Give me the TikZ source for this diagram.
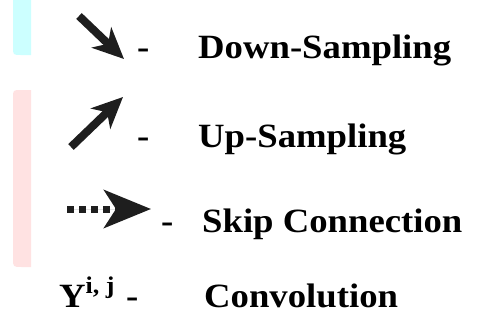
\documentclass[tikz,border=0pt]{standalone}
\usepackage{fontspec}
\setmainfont[FakeStretch=1.08]{Liberation Serif}
\usetikzlibrary{arrows.meta}
\definecolor{stripcyan}{HTML}{CCFFFF}
\definecolor{strippink}{HTML}{FFE2E2}
\definecolor{glyphink}{HTML}{1E1E1E}
\begin{document}
\begin{tikzpicture}[x=1pt,y=-1pt,
  legendtext/.style={font=\fontsize{34}{36}\selectfont\bfseries, inner sep=0pt, anchor=base west, text=black},
  glyph/.style={line width=8pt, draw=glyphink, fill=glyphink},
  bigtip/.style={-{Stealth[length=31pt,width=28pt,inset=9pt]}}]
  \useasboundingbox[fill=white] (0,0) rectangle (480,327);

  % coloured strips on the left edge
  \fill[stripcyan] (31,-2) -- (31,55) -- (21,55) .. controls (13,55) .. (13,47) -- (13,-2) -- cycle;
  \fill[strippink] (31,267) -- (31,90) -- (21,90) .. controls (13,90) .. (13,98)
    -- (13,258) .. controls (13,267) .. (22,267) -- cycle;

  % down-sampling glyph
  \coordinate (dsA) at (79,16);
  \coordinate (dsB) at (124,59);
  \draw[glyph, bigtip] (dsA) -- (dsB);
  \node[legendtext] (dsdash) at (137,58) {-};
  \node[legendtext] (dslabel) at (198,58) {Down-Sampling};

  % up-sampling glyph
  \coordinate (usA) at (71,147);
  \coordinate (usB) at (123,97);
  \draw[glyph, bigtip] (usA) -- (usB);
  \node[legendtext] (usdash) at (137,147) {-};
  \node[legendtext] (uslabel) at (198,147) {Up-Sampling};

  % skip-connection glyph
  \coordinate (skA) at (67,209);
  \coordinate (skB) at (151,209);
  \draw[glyph, line width=7pt, dash pattern=on 7pt off 5pt,
        -{Stealth[length=47pt,width=38pt,inset=12pt]}] (skA) -- (skB);
  \node[legendtext] (skdash) at (161,232) {-};
  \node[legendtext] (sklabel) at (202,232) {Skip Connection};

  % convolution symbol
  \node[legendtext] (conv) at (59,307) {Y\raisebox{14pt}{\fontsize{24}{25}\selectfont i, j}};
  \node[legendtext] (cvdash) at (126,307) {-};
  \node[legendtext] (cvlabel) at (204,307) {Convolution};
\end{tikzpicture}
\end{document}
